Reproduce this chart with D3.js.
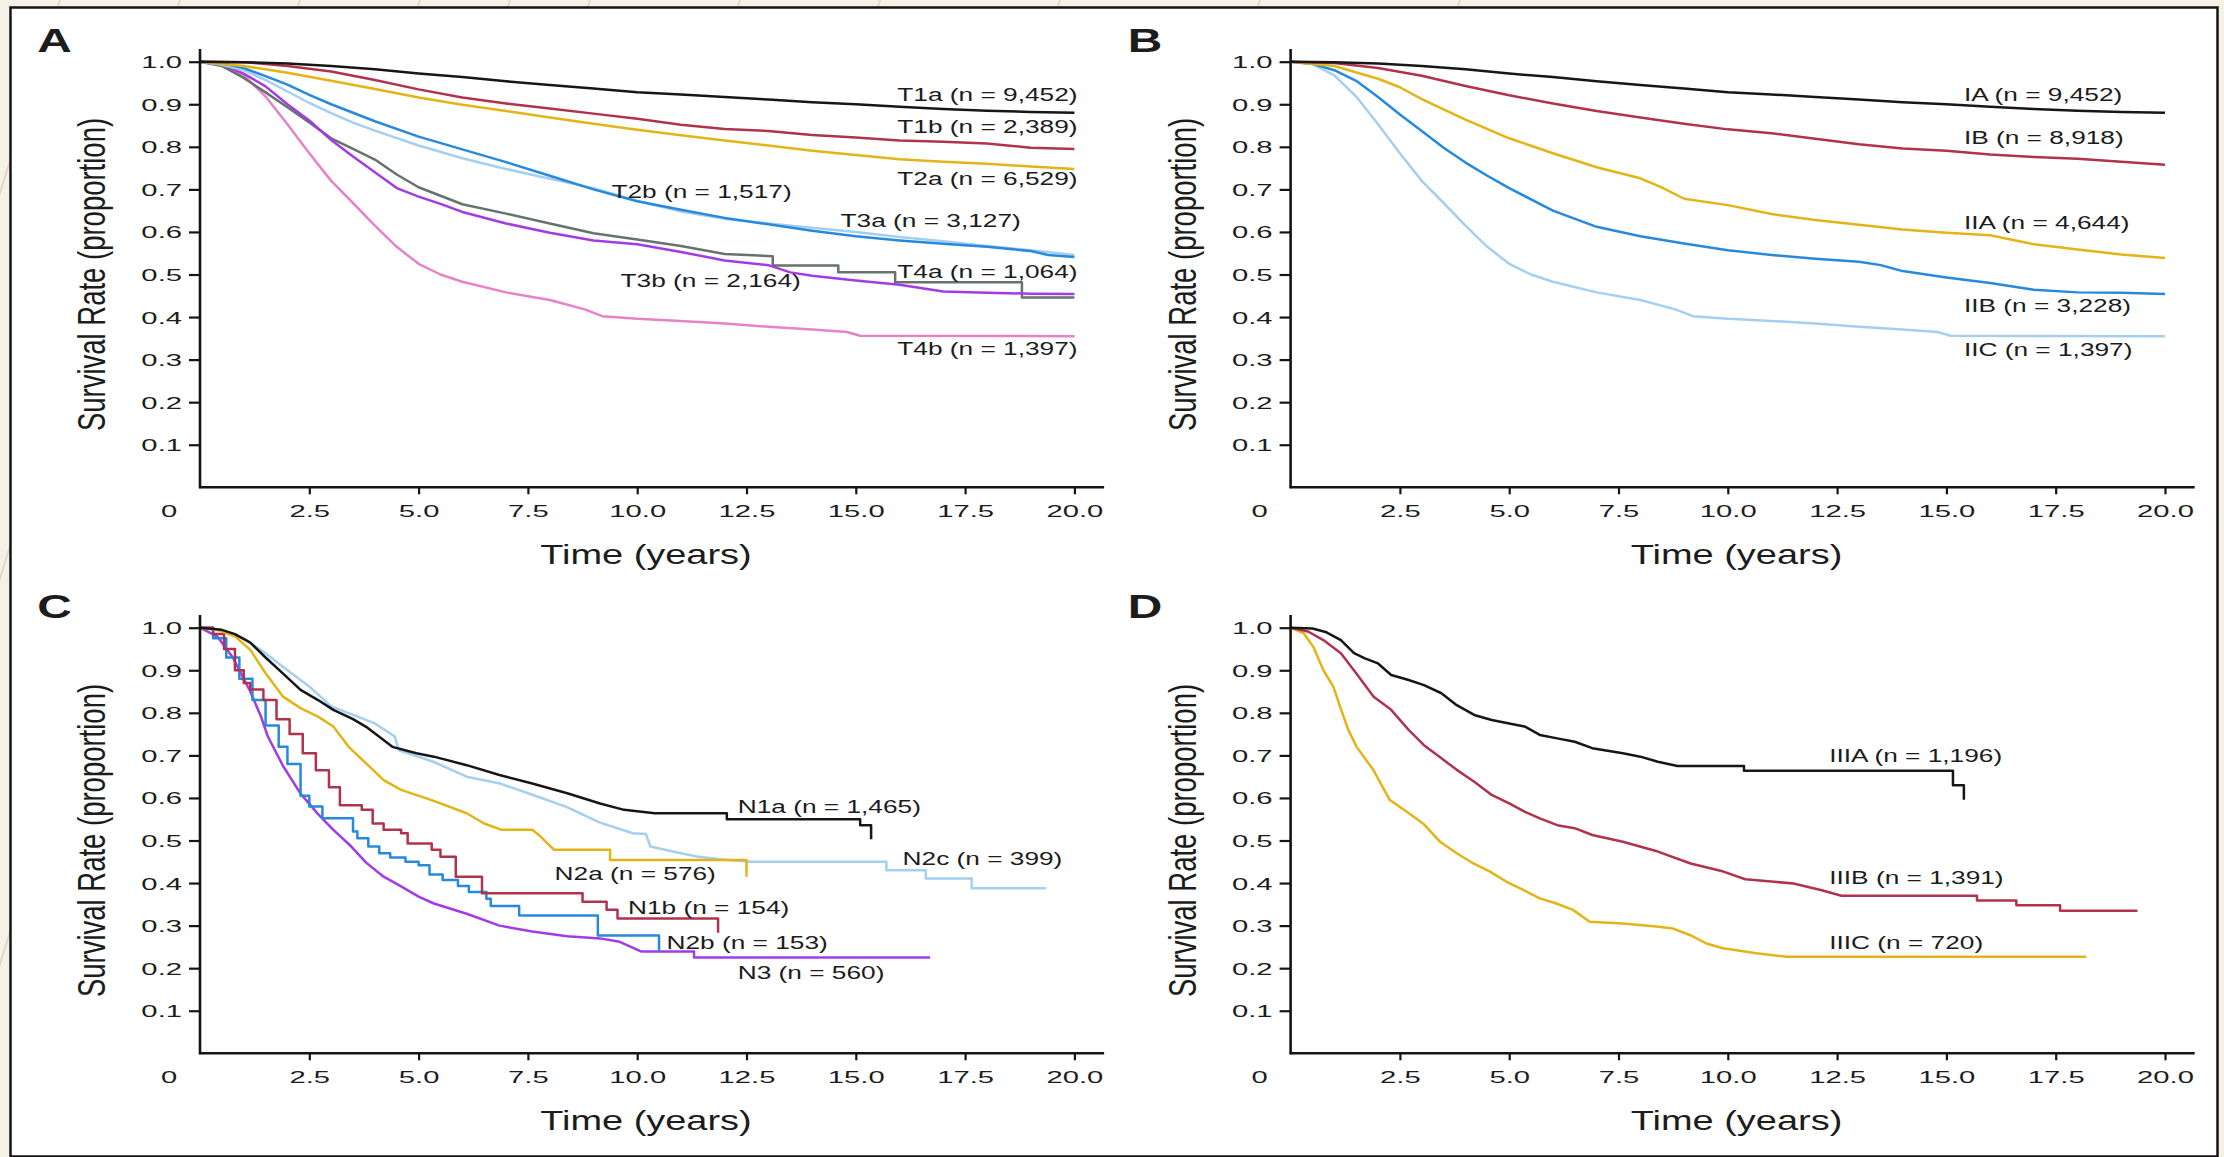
<!DOCTYPE html>
<html lang="en">
<head>
<meta charset="UTF-8">
<title>Survival curves by T category, stage and N category</title>
<script src="https://d3js.org/d3.v7.min.js"></script>
<style>
  html, body { margin: 0; padding: 0; background: #f6f1e6; }
  svg { display: block; }
  text { font-family: "Liberation Sans", Arial, sans-serif; fill: #1c1c1c; }
</style>
</head>
<body>
<script>
// ---- data ----
const xTicks = [2.5, 5, 7.5, 10, 12.5, 15, 17.5, 20];
const yTicks = [0.1, 0.2, 0.3, 0.4, 0.5, 0.6, 0.7, 0.8, 0.9, 1.0];
const years = [0, 1, 2, 3, 4, 5, 6, 7, 8, 9, 10, 11, 12, 13, 14, 15, 16, 17, 18, 19, 20];

// panel A - T category
const t1aS = [1.0, 0.999, 0.996, 0.99, 0.982, 0.972, 0.964, 0.954, 0.945, 0.937, 0.928, 0.923, 0.917, 0.911, 0.905, 0.9, 0.894, 0.889, 0.885, 0.882, 0.88];
const t1bS = [1.0, 0.999, 0.99, 0.977, 0.957, 0.935, 0.916, 0.902, 0.89, 0.878, 0.866, 0.852, 0.842, 0.837, 0.828, 0.822, 0.815, 0.812, 0.808, 0.798, 0.795];
const t2aS = [1.0, 0.99, 0.974, 0.955, 0.936, 0.916, 0.899, 0.884, 0.869, 0.854, 0.84, 0.827, 0.815, 0.803, 0.791, 0.781, 0.771, 0.765, 0.76, 0.754, 0.748];
const t2bT = [0, 0.5, 1, 1.5, 2, 2.5, 3, 3.5, 4, 5, 6, 7, 8, 9, 10, 11, 12, 13, 14, 15, 16, 17, 18, 19, 19.4, 20];
const t2bS = [1.0, 0.996, 0.985, 0.966, 0.946, 0.922, 0.9, 0.88, 0.86, 0.824, 0.794, 0.764, 0.732, 0.7, 0.672, 0.652, 0.633, 0.618, 0.603, 0.59, 0.58, 0.572, 0.565, 0.555, 0.546, 0.541];
const t3aT = [0, 0.5, 1, 1.5, 2, 2.5, 3, 3.5, 4, 5, 6, 7, 8, 9, 10, 11, 12, 13, 14, 15, 16, 17, 18, 19, 20];
const t3aS = [1.0, 0.993, 0.98, 0.957, 0.93, 0.903, 0.879, 0.857, 0.838, 0.803, 0.773, 0.748, 0.725, 0.703, 0.673, 0.648, 0.631, 0.62, 0.61, 0.6, 0.588, 0.578, 0.567, 0.557, 0.546];
const t3bT = [0, 0.5, 1, 1.5, 2, 2.5, 3, 3.5, 4, 4.5, 5, 5.5, 6, 7, 8, 9, 10, 11, 12, 13, 13.5, 14, 15, 16, 17, 18, 19, 20];
const t3bS = [1.0, 0.993, 0.972, 0.942, 0.9, 0.862, 0.816, 0.777, 0.74, 0.703, 0.683, 0.666, 0.647, 0.62, 0.598, 0.58, 0.571, 0.553, 0.533, 0.522, 0.505, 0.497, 0.486, 0.476, 0.46, 0.457, 0.455, 0.454];
const t4aT = [0, 0.5, 1, 1.5, 2, 2.5, 3, 3.5, 4, 4.5, 5, 6, 7, 8, 9, 10, 11, 12, 13.1, 13.1, 14.6, 14.6, 15.9, 15.9, 18.8, 18.8, 20];
const t4aS = [1.0, 0.99, 0.962, 0.928, 0.893, 0.857, 0.82, 0.795, 0.77, 0.735, 0.705, 0.665, 0.643, 0.62, 0.597, 0.582, 0.567, 0.548, 0.543, 0.521, 0.521, 0.505, 0.505, 0.482, 0.482, 0.446, 0.446];
const t4bT = [0, 0.5, 1, 1.5, 2, 2.5, 3, 3.5, 4, 4.5, 5, 5.5, 6, 7, 8, 8.8, 9.2, 10, 11, 12, 13, 14, 14.8, 15.1, 20];
const t4bS = [1.0, 0.994, 0.968, 0.918, 0.853, 0.785, 0.72, 0.668, 0.615, 0.565, 0.525, 0.5, 0.483, 0.458, 0.44, 0.418, 0.402, 0.396, 0.391, 0.385, 0.377, 0.371, 0.365, 0.356, 0.355];

// panel B - stage I/II (IA is the T1a group, IIC the T4b group)
const iaS = t1aS;
const ibS = [1.0, 0.997, 0.985, 0.967, 0.943, 0.921, 0.902, 0.884, 0.869, 0.854, 0.841, 0.832, 0.819, 0.806, 0.796, 0.791, 0.782, 0.776, 0.772, 0.765, 0.758];
const iiaT = [0, 1, 2, 2.5, 3, 4, 5, 6, 7, 8, 8.5, 9, 10, 11, 12, 13, 14, 15, 16, 17, 18, 19, 20];
const iiaS = [1.0, 0.99, 0.96, 0.94, 0.912, 0.864, 0.82, 0.785, 0.752, 0.726, 0.704, 0.678, 0.663, 0.642, 0.628, 0.617, 0.606, 0.598, 0.592, 0.571, 0.559, 0.547, 0.539];
const iibT = [0, 0.5, 1, 1.5, 2, 2.5, 3, 3.5, 4, 4.5, 5, 6, 7, 8, 9, 10, 11, 12, 13, 13.5, 14, 15, 16, 17, 18, 19, 20];
const iibS = [1.0, 0.995, 0.98, 0.955, 0.917, 0.876, 0.837, 0.798, 0.763, 0.732, 0.703, 0.65, 0.612, 0.59, 0.573, 0.557, 0.546, 0.537, 0.53, 0.522, 0.508, 0.493, 0.48, 0.464, 0.458, 0.457, 0.454];
const iicT = t4bT;
const iicS = t4bS;

// panel C - N category
const n1aT = [0, 0.5, 0.8, 1.15, 1.5, 1.9, 2.3, 2.7, 3.05, 3.5, 3.8, 4.4, 4.95, 5.35, 6.1, 6.85, 7.6, 8.4, 9.15, 9.7, 10.4, 12.05, 12.05, 15.1, 15.1, 15.35, 15.35];
const n1aS = [1.0, 0.995, 0.985, 0.965, 0.93, 0.892, 0.854, 0.83, 0.807, 0.785, 0.767, 0.72, 0.705, 0.697, 0.677, 0.654, 0.634, 0.611, 0.587, 0.572, 0.564, 0.564, 0.55, 0.55, 0.536, 0.536, 0.503];
const n2cT = [0, 0.5, 1, 1.5, 2, 2.5, 3, 3.5, 4.0, 4.45, 4.55, 5.34, 6.1, 6.86, 7.62, 8.38, 9.15, 9.9, 10.2, 10.3, 11, 11.4, 12, 12.6, 15.7, 15.7, 16.6, 16.6, 17.65, 17.65, 19.35];
const n2cS = [1.0, 0.993, 0.975, 0.94, 0.9, 0.862, 0.815, 0.795, 0.775, 0.745, 0.712, 0.685, 0.65, 0.634, 0.607, 0.579, 0.542, 0.517, 0.515, 0.486, 0.47, 0.462, 0.455, 0.45, 0.45, 0.43, 0.43, 0.411, 0.411, 0.388, 0.388];
const n2aT = [0, 0.4, 0.8, 1.15, 1.5, 1.9, 2.3, 2.7, 3.05, 3.4, 3.8, 4.2, 4.6, 5.3, 6.1, 6.5, 6.9, 7.6, 7.75, 8.1, 9.38, 9.38, 12.5, 12.5];
const n2aS = [1.0, 0.995, 0.98, 0.948, 0.893, 0.838, 0.811, 0.791, 0.768, 0.72, 0.681, 0.642, 0.619, 0.595, 0.564, 0.54, 0.525, 0.525, 0.513, 0.478, 0.478, 0.454, 0.454, 0.415];
const n1bT = [0, 0.3, 0.55, 0.8, 1.0, 1.15, 1.45, 1.75, 2.05, 2.35, 2.65, 2.95, 3.2, 3.7, 3.95, 4.2, 4.6, 4.75, 5.3, 5.5, 5.85, 6.45, 8.75, 9.3, 9.55, 11.85, 11.85];
const n1bS = [1.0, 0.985, 0.95, 0.9, 0.87, 0.855, 0.83, 0.785, 0.75, 0.705, 0.665, 0.625, 0.583, 0.572, 0.54, 0.525, 0.517, 0.493, 0.478, 0.462, 0.415, 0.376, 0.356, 0.337, 0.317, 0.317, 0.283];
const n2bT = [0, 0.3, 0.6, 0.9, 1.2, 1.5, 1.8, 2.0, 2.3, 2.5, 2.8, 3.5, 3.6, 3.85, 4.1, 4.35, 4.7, 5.0, 5.25, 5.55, 5.9, 6.15, 6.55, 6.65, 7.3, 9.1, 10.5, 10.5];
const n2bS = [1.0, 0.975, 0.93, 0.88, 0.83, 0.77, 0.72, 0.68, 0.605, 0.58, 0.552, 0.521, 0.505, 0.486, 0.47, 0.46, 0.45, 0.442, 0.42, 0.407, 0.393, 0.379, 0.363, 0.346, 0.324, 0.277, 0.277, 0.238];
const n3T = [0, 0.4, 0.75, 1.15, 1.4, 1.55, 1.9, 2.3, 2.7, 3.05, 3.45, 3.8, 4.2, 4.6, 5.0, 5.35, 6.1, 6.85, 7.6, 8.4, 9.15, 9.6, 10.1, 11.3, 11.3, 16.7];
const n3S = [1.0, 0.979, 0.93, 0.85, 0.79, 0.745, 0.675, 0.61, 0.562, 0.525, 0.487, 0.448, 0.415, 0.392, 0.368, 0.352, 0.328, 0.3, 0.286, 0.275, 0.27, 0.262, 0.239, 0.239, 0.225, 0.225];

// panel D - stage III
const iiiaT = [0, 0.5, 0.8, 1.15, 1.45, 1.7, 2.0, 2.3, 2.7, 3.05, 3.45, 3.8, 4.2, 4.6, 5.0, 5.35, 5.7, 6.1, 6.5, 6.9, 7.6, 8.0, 8.4, 8.85, 10.37, 10.37, 15.15, 15.15, 15.4, 15.4];
const iiiaS = [1.0, 0.998, 0.99, 0.971, 0.94, 0.928, 0.916, 0.889, 0.877, 0.865, 0.846, 0.818, 0.795, 0.783, 0.775, 0.768, 0.748, 0.74, 0.732, 0.717, 0.705, 0.697, 0.685, 0.675, 0.675, 0.664, 0.664, 0.63, 0.63, 0.596];
const iiibT = [0, 0.4, 0.75, 1.15, 1.5, 1.9, 2.3, 2.7, 3.05, 3.45, 3.8, 4.2, 4.6, 5.0, 5.35, 5.7, 6.1, 6.5, 6.9, 7.6, 8.4, 9.15, 9.9, 10.4, 11.5, 12.15, 12.6, 15.7, 15.7, 16.6, 16.6, 17.6, 17.6, 19.37];
const iiibS = [1.0, 0.991, 0.971, 0.94, 0.893, 0.838, 0.807, 0.76, 0.724, 0.693, 0.666, 0.638, 0.607, 0.587, 0.568, 0.552, 0.536, 0.529, 0.513, 0.497, 0.474, 0.446, 0.427, 0.409, 0.399, 0.383, 0.37, 0.37, 0.359, 0.359, 0.348, 0.348, 0.335, 0.335];
const iiicT = [0, 0.3, 0.52, 0.75, 0.98, 1.13, 1.32, 1.51, 1.89, 2.27, 2.65, 3.03, 3.42, 3.8, 4.18, 4.56, 4.94, 5.32, 5.7, 6.08, 6.46, 6.84, 7.6, 8.37, 8.75, 9.13, 9.51, 9.89, 10.65, 11.35, 18.2];
const iiicS = [1.0, 0.987, 0.955, 0.9, 0.861, 0.815, 0.76, 0.72, 0.666, 0.595, 0.568, 0.54, 0.497, 0.47, 0.446, 0.427, 0.403, 0.384, 0.364, 0.352, 0.337, 0.309, 0.305, 0.298, 0.293, 0.278, 0.258, 0.247, 0.235, 0.227, 0.227];

// curve labels: text, left edge (years), centre (proportion)
const labelsA = ["T1a (n = 9,452)", "T1b (n = 2,389)", "T2a (n = 6,529)", "T2b (n = 1,517)", "T3a (n = 3,127)", "T4a (n = 1,064)", "T3b (n = 2,164)", "T4b (n = 1,397)"];
const labelAX = [15.95, 15.95, 15.95, 9.41, 14.65, 15.95, 9.62, 15.95];
const labelAY = [0.924, 0.848, 0.726, 0.696, 0.626, 0.507, 0.485, 0.327];
const labelsB = ["IA (n = 9,452)", "IB (n = 8,918)", "IIA (n = 4,644)", "IIB (n = 3,228)", "IIC (n = 1,397)"];
const labelBX = [15.4, 15.4, 15.4, 15.4, 15.4];
const labelBY = [0.924, 0.822, 0.622, 0.428, 0.324];
const labelsC = ["N1a (n = 1,465)", "N2c (n = 399)", "N2a (n = 576)", "N1b (n = 154)", "N2b (n = 153)", "N3 (n = 560)"];
const labelCX = [12.3, 16.07, 8.11, 9.79, 10.67, 12.3];
const labelCY = [0.58, 0.457, 0.422, 0.342, 0.261, 0.189];
const labelsD = ["IIIA (n = 1,196)", "IIIB (n = 1,391)", "IIIC (n = 720)"];
const labelDX = [12.32, 12.32, 12.32];
const labelDY = [0.70, 0.414, 0.26];

// ---- styling ----
const col = {
  black: "#161616", red: "#b1324d", gold: "#e4b416", blue: "#2689dd",
  light: "#a4cff0", purple: "#a23be4", gray: "#66726e", pink: "#e683c8"
};
const zip = (t, s) => t.map((d, i) => [d, s[i]]);

// drawing order: back to front
const panels = [
  { letter: "A", left: 200, top: 61.7,
    series: [
      { pts: zip(t4bT, t4bS), color: col.pink },
      { pts: zip(t4aT, t4aS), color: col.gray },
      { pts: zip(t3bT, t3bS), color: col.purple },
      { pts: zip(t3aT, t3aS), color: col.light },
      { pts: zip(t2bT, t2bS), color: col.blue },
      { pts: zip(years, t2aS), color: col.gold },
      { pts: zip(years, t1bS), color: col.red },
      { pts: zip(years, t1aS), color: col.black }
    ],
    labels: [labelsA, labelAX, labelAY] },
  { letter: "B", left: 1290.6, top: 61.7,
    series: [
      { pts: zip(iicT, iicS), color: col.light },
      { pts: zip(iibT, iibS), color: col.blue },
      { pts: zip(iiaT, iiaS), color: col.gold },
      { pts: zip(years, ibS), color: col.red },
      { pts: zip(years, iaS), color: col.black }
    ],
    labels: [labelsB, labelBX, labelBY] },
  { letter: "C", left: 200, top: 627.7,
    series: [
      { pts: zip(n2cT, n2cS), color: col.light },
      { pts: zip(n3T, n3S), color: col.purple },
      { pts: zip(n2bT, n2bS), color: col.blue, step: true },
      { pts: zip(n1bT, n1bS), color: col.red, step: true },
      { pts: zip(n2aT, n2aS), color: col.gold },
      { pts: zip(n1aT, n1aS), color: col.black }
    ],
    labels: [labelsC, labelCX, labelCY] },
  { letter: "D", left: 1290.6, top: 627.7,
    series: [
      { pts: zip(iiicT, iiicS), color: col.gold },
      { pts: zip(iiibT, iiibS), color: col.red },
      { pts: zip(iiiaT, iiiaS), color: col.black }
    ],
    labels: [labelsD, labelDX, labelDY] }
];

const W = 2224, H = 1157;
const plotW = 874.4, plotH = 425.6;
// the source figure is stretched sideways, so text glyphs are widened too
const tickStretch = 1.72, labelStretch = 1.42, titleStretch = 1.38;

const svg = d3.select("body").append("svg")
  .attr("width", W)
  .attr("height", H);

// slide background with faint diagonal texture
svg.append("rect").attr("width", W).attr("height", H).attr("fill", "#f6f1e6");
const stripeStarts = [-300, -180, -60, 60, 150, 230, 380, 520, 700, 900, 1100];
svg.append("g").selectAll("line")
  .data(stripeStarts)
  .enter().append("line")
  .attr("x1", d => d)
  .attr("y1", H)
  .attr("x2", d => d + 360)
  .attr("y2", 0)
  .attr("stroke", "#e2d8c4")
  .attr("stroke-width", 2);

// white figure area with frame
svg.append("rect")
  .attr("x", 10.5).attr("y", 7.5)
  .attr("width", 2207).attr("height", 1149)
  .attr("fill", "#fff")
  .attr("stroke", "#141414")
  .attr("stroke-width", 2.5);

panels.forEach(p => {
  const x = d3.scaleLinear().domain([0, 20]).range([p.left, p.left + plotW]);
  const y = d3.scaleLinear().domain([0, 1]).range([p.top + plotH, p.top]);
  const g = svg.append("g");

  // curves
  p.series.forEach(s => {
    const line = d3.line()
      .x(d => x(d[0]))
      .y(d => y(d[1]))
      .curve(s.step ? d3.curveStepAfter : d3.curveLinear);
    g.append("path")
      .datum(s.pts)
      .attr("d", line)
      .attr("fill", "none")
      .attr("stroke", s.color)
      .attr("stroke-width", 2.5)
      .attr("stroke-linejoin", "round");
  });

  // axes
  const xAxis = g.append("g")
    .attr("transform", `translate(0,${y(0)})`)
    .call(d3.axisBottom(x).tickValues(xTicks).tickSize(7).tickFormat(d3.format(".1f")));
  const yAxis = g.append("g")
    .attr("transform", `translate(${x(0)},0)`)
    .call(d3.axisLeft(y).tickValues(yTicks).tickSize(11).tickFormat(d3.format(".1f")));
  [xAxis, yAxis].forEach(a => {
    a.select(".domain").remove();
    a.attr("font-size", 17).attr("font-family", "Liberation Sans, Arial, sans-serif");
    a.selectAll(".tick line").attr("stroke", "#151515").attr("stroke-width", 2.2);
    a.selectAll(".tick text").attr("fill", "#1c1c1c");
  });
  xAxis.selectAll(".tick text")
    .attr("y", 24).attr("dy", "0.35em")
    .attr("transform", `scale(${tickStretch},1)`);
  yAxis.selectAll(".tick text")
    .attr("x", -18 / tickStretch).attr("dy", "0.35em")
    .attr("transform", `scale(${tickStretch},1)`);

  g.append("line")
    .attr("x1", x(0) - 1).attr("x2", x(20.68))
    .attr("y1", y(0)).attr("y2", y(0))
    .attr("stroke", "#151515").attr("stroke-width", 2.6);
  g.append("line")
    .attr("x1", x(0)).attr("x2", x(0))
    .attr("y1", y(0) + 1).attr("y2", y(1.03))
    .attr("stroke", "#151515").attr("stroke-width", 2.6);

  // shared origin label
  g.append("text")
    .attr("transform", `translate(${x(0) - 31},${y(0) + 24}) scale(${tickStretch},1)`)
    .attr("text-anchor", "middle")
    .attr("dy", "0.35em")
    .attr("font-size", 17)
    .text("0");

  // axis titles
  g.append("text")
    .attr("transform", `translate(${x(0) - 108},${y(0.5)}) scale(${titleStretch},1) rotate(-90)`)
    .attr("text-anchor", "middle")
    .attr("dy", "0.35em")
    .attr("font-size", 27.5)
    .text("Survival Rate (proportion)");
  g.append("text")
    .attr("transform", `translate(${x(10.2)},${y(0) + 67}) scale(${titleStretch},1)`)
    .attr("text-anchor", "middle")
    .attr("dy", "0.35em")
    .attr("font-size", 27.5)
    .text("Time (years)");

  // panel letter
  g.append("text")
    .attr("transform", `translate(${x(0) - 145.5},${y(1) - 21.7}) scale(1.45,1)`)
    .attr("text-anchor", "middle")
    .attr("dy", "0.36em")
    .attr("font-size", 33)
    .attr("font-weight", "bold")
    .attr("fill", "#111")
    .text(p.letter);

  // curve labels
  const [names, lx, ly] = p.labels;
  g.selectAll(".lab")
    .data(names)
    .enter().append("text")
    .attr("class", "lab")
    .attr("transform", (d, i) => `translate(${x(lx[i])},${y(ly[i])}) scale(${labelStretch},1)`)
    .attr("dy", "0.35em")
    .attr("font-size", 18.5)
    .text(d => d);
});
</script>
</body>
</html>
